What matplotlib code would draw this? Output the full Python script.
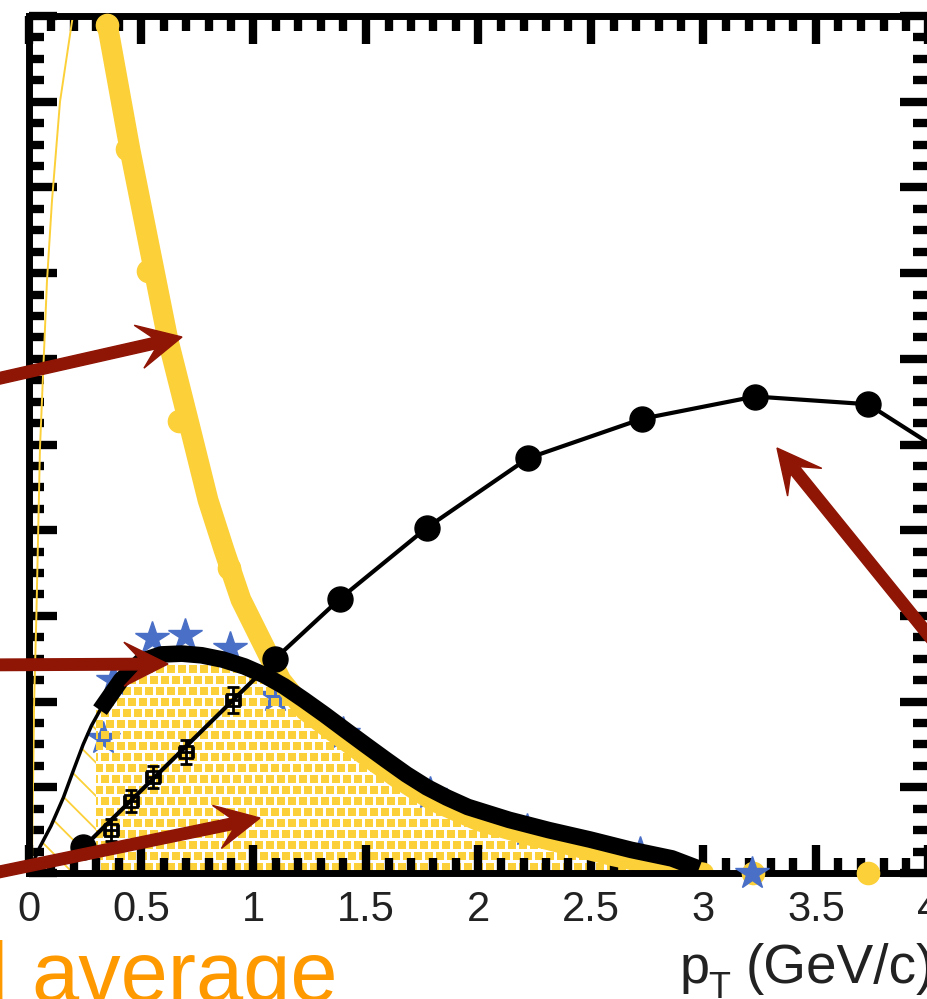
import numpy as np
import matplotlib
matplotlib.use("Agg")
import matplotlib.pyplot as plt
from matplotlib.patches import FancyArrow
from matplotlib.ticker import MultipleLocator

# ---------------- data ----------------
# thick yellow curve (steeply falling spectrum)
yellow_x = [0.349, 0.451, 0.540, 0.620, 0.709, 0.798, 0.869, 0.944, 1.033, 1.122,
            1.229, 1.35, 1.50, 1.65, 1.80, 2.00, 2.20, 2.40, 2.60, 2.80, 3.00]
yellow_y = [9.92, 8.44, 7.27, 6.22, 5.29, 4.35, 3.77, 3.19, 2.72, 2.25,
            1.90, 1.66, 1.37, 1.09, 0.84, 0.61, 0.46, 0.33, 0.20, 0.09, 0.0]
# yellow points on top of that curve
ydot_x = [0.349, 0.44, 0.53, 0.67, 0.89]
ydot_y = [9.90, 8.45, 7.02, 5.27, 3.56]
# yellow points lying on the pT axis
yaxis_dot_x = [3.22, 3.73]
yaxis_dot_y = [0.0, 0.0]

# thin yellow curve rising at low pT
thin_x = [0.015, 0.025, 0.035, 0.051, 0.082, 0.104, 0.14, 0.193, 0.21]
thin_y = [0.0, 2.0, 3.0, 4.96, 6.9, 7.83, 9.0, 9.93, 10.2]

# thick black curve
black_x = [0.318, 0.411, 0.50, 0.59, 0.682, 0.77, 0.864, 0.96, 1.047, 1.135, 1.224,
           1.315, 1.407, 1.50, 1.589, 1.68, 1.771, 1.86, 1.953, 2.136, 2.313,
           2.496, 2.678, 2.86, 2.98]
black_y = [1.90, 2.25, 2.47, 2.55, 2.56, 2.54, 2.49, 2.41, 2.31, 2.18, 2.02,
           1.85, 1.67, 1.49, 1.32, 1.15, 1.00, 0.88, 0.77, 0.62, 0.50,
           0.39, 0.27, 0.17, 0.05]
# thin black extension towards pT = 0
blackthin_x = [0.0, 0.05, 0.10, 0.155, 0.20, 0.243, 0.28, 0.318]
blackthin_y = [0.0, 0.30, 0.55, 0.88, 1.20, 1.50, 1.72, 1.90]

# blue stars along the curve
star_x = [0.331, 0.376, 0.549, 0.696, 0.896, 1.096, 1.398, 1.784, 2.216, 2.718]
star_y = [1.57, 2.25, 2.74, 2.78, 2.63, 2.07, 1.63, 0.93, 0.50, 0.23]
# blue star on the pT axis
star_axis_x = [3.216]
star_axis_y = [0.0]

# black circles joined by a line
circ_x = [0.244, 1.096, 1.384, 1.771, 2.22, 2.727, 3.229, 3.731, 4.22]
circ_y = [0.30, 2.50, 3.20, 4.03, 4.84, 5.30, 5.56, 5.47, 4.65]

# open squares with error bars
sq_x = [0.367, 0.456, 0.553, 0.700, 0.909]
sq_y = [0.50, 0.84, 1.12, 1.41, 2.02]
sq_err = [0.13, 0.13, 0.13, 0.14, 0.15]

xtick_vals = [0, 0.5, 1, 1.5, 2, 2.5, 3, 3.5, 4]
xtick_labels = ["0", "0.5", "1", "1.5", "2", "2.5", "3", "3.5", "4"]

# ---------------- style ----------------
YELLOW = "#FCD038"
BLUE = "#4A6FC6"
RED = "#8F1505"
ORANGE = "#FF9900"
plt.rcParams["font.family"] = ["Liberation Sans", "DejaVu Sans"]

W, H = 927, 999
fig = plt.figure(figsize=(W / 100, H / 100), dpi=100)
ax = fig.add_axes([28.5 / W, 126 / H, 900 / W, 857 / H])
ax.set_xlim(0, 4)
ax.set_ylim(0, 10)

# brick-textured yellow band under the curves
xf = np.linspace(0.30, 3.0, 800)
top = np.minimum(np.interp(xf, black_x, black_y), np.interp(xf, yellow_x, yellow_y))
poly = ax.fill_between(xf, 0, top, facecolor="none", edgecolor="none", zorder=1)
rows, cols = 857, 900
rr, cc = np.mgrid[0:rows, 0:cols]
mask = ((rr % 11) < 8) & (((cc + 5 * ((rr // 11) % 2)) % 11) < 8)
tex = np.zeros((rows, cols, 4))
rgb = matplotlib.colors.to_rgb(YELLOW)
tex[mask, 0], tex[mask, 1], tex[mask, 2], tex[mask, 3] = rgb[0], rgb[1], rgb[2], 1.0
im = ax.imshow(tex, extent=(0, 4, 0, 10), origin="upper", aspect="auto",
               interpolation="nearest", zorder=1)
im.set_clip_path(poly.get_paths()[0], transform=ax.transData)

# diagonal hatching under the low-pT extension
xd = np.linspace(0.03, 0.30, 100)
with plt.rc_context({"hatch.linewidth": 1.3}):
    ax.fill_between(xd, 0, np.interp(xd, blackthin_x, blackthin_y),
                    facecolor="none", edgecolor=YELLOW, hatch="\\", linewidth=0,
                    zorder=1)

# stars sit beneath the textured band
ax.plot(star_x, star_y, linestyle="none", marker="*", ms=25, color=BLUE,
        zorder=0.9)
# points on the axis are drawn over the frame
ax.plot(yaxis_dot_x, yaxis_dot_y, linestyle="none", marker="o", ms=16,
        color=YELLOW, zorder=2.6, clip_on=False)
ax.plot(star_axis_x, star_axis_y, linestyle="none", marker="*", ms=25,
        color=BLUE, zorder=2.7, clip_on=False)

# yellow curves
ax.plot(yellow_x, yellow_y, color=YELLOW, lw=15, solid_capstyle="round",
        solid_joinstyle="round", zorder=2)
ax.plot(thin_x, thin_y, color=YELLOW, lw=1.4, zorder=2)
ax.plot(ydot_x, ydot_y, linestyle="none", marker="o", ms=16, color=YELLOW,
        zorder=3, clip_on=False)

# black circle series and square series
ax.plot(circ_x, circ_y, color="black", lw=3, marker="o", ms=18, zorder=3)
ax.errorbar(sq_x, sq_y, yerr=sq_err, xerr=0.03, fmt="s", ms=9, mfc="none",
            mec="black", mew=2, ecolor="black", elinewidth=2, capsize=4.5,
            capthick=2, zorder=3)

# thick black curve and its thin extension
ax.plot(blackthin_x, blackthin_y, color="black", lw=2.5, zorder=4)
ax.plot(black_x, black_y, color="black", lw=12, solid_capstyle="butt",
        solid_joinstyle="round", zorder=4)

# axes frame and ticks
for s in ax.spines.values():
    s.set_linewidth(5)
ax.set_xticks(xtick_vals)
ax.set_xticklabels(xtick_labels)
ax.xaxis.set_minor_locator(MultipleLocator(0.1))
ax.yaxis.set_major_locator(MultipleLocator(1))
ax.yaxis.set_minor_locator(MultipleLocator(0.25))
ax.tick_params(which="both", direction="in", top=True, right=True, width=6,
               color="black")
ax.tick_params(which="major", length=20)
ax.tick_params(which="minor", length=10.5)
ax.tick_params(axis="x", labelsize=30, labelcolor="#222222", pad=12)
ax.tick_params(axis="y", labelleft=False)

# axis title
fig.text(680 / W, (H - 983) / H, "p", fontsize=39, color="#222222",
         ha="left", va="baseline")
fig.text(708 / W, (H - 998) / H, "T", fontsize=26, color="#222222",
         ha="left", va="baseline")
fig.text(746 / W, (H - 983) / H, "(GeV/c)", fontsize=39.5, color="#222222",
         ha="left", va="baseline")

# caption text below
fig.text(31 / W, -2 / H, "average", fontsize=61, color=ORANGE,
         ha="left", va="baseline")
fig.text(8 / W, -2 / H, "d", fontsize=61, color=ORANGE, ha="right", va="baseline")

# annotation arrows (tail px, tip px measured from top-left)
arrows = [((-30, 385), (182, 337)),
          ((-30, 665), (168, 664)),
          ((-30, 878), (260, 818)),
          ((960, 674), (777, 448))]
for (x0, y0), (x1, y1) in arrows:
    xa, ya = x0 / 100, (H - y0) / 100
    xb, yb = x1 / 100, (H - y1) / 100
    arr = FancyArrow(xa, ya, xb - xa, yb - ya, width=0.115, head_width=0.44,
                     head_length=0.44, overhang=0.35, length_includes_head=True,
                     color=RED, transform=fig.dpi_scale_trans, zorder=10)
    fig.add_artist(arr)

fig.savefig("out.png", dpi=100)
